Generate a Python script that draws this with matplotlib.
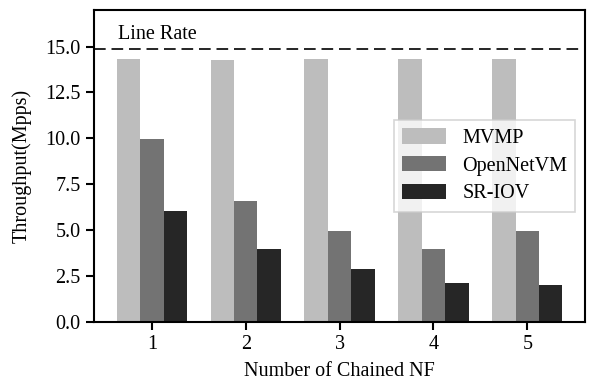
import matplotlib
matplotlib.use("Agg")
import matplotlib.pyplot as plt
import numpy as np

# Number of chained NFs
chain_len = [1, 2, 3, 4, 5]

# throughput in Mpps
mvmp = [14.33, 14.27, 14.33, 14.33, 14.33]
opennetvm = [9.94, 6.57, 4.93, 3.96, 4.93]
sriov = [6.02, 3.99, 2.87, 2.09, 1.99]

line_rate = 14.88

plt.rcParams['font.family'] = ['Liberation Serif', 'DejaVu Serif']
plt.rcParams['font.size'] = 14.5

fig, ax = plt.subplots(figsize=(5.89, 3.83), dpi=100)
fig.subplots_adjust(left=0.159, right=0.994, top=0.974, bottom=0.160)

x = np.array(chain_len)
w = 0.25
ax.bar(x - w, mvmp, w, color='#bdbdbd', label='MVMP')
ax.bar(x, opennetvm, w, color='#737373', label='OpenNetVM')
ax.bar(x + w, sriov, w, color='#262626', label='SR-IOV')

# line rate marker
ax.axhline(line_rate, color='black', linestyle=(0, (7, 3.5)), linewidth=1.2)
ax.text(0.64, 15.15, 'Line Rate', ha='left', va='bottom')

ax.set_xlim(0.38, 5.62)
ax.set_ylim(0, 17)
ax.set_xticks(chain_len)
ax.set_yticks([0, 2.5, 5, 7.5, 10, 12.5, 15])
ax.set_yticklabels(['0.0', '2.5', '5.0', '7.5', '10.0', '12.5', '15.0'])
ax.tick_params(direction='out', length=6, width=1.5)
for s in ax.spines.values():
    s.set_linewidth(1.5)

ax.set_xlabel('Number of Chained NF', labelpad=6)
ax.set_ylabel('Throughput(Mpps)', labelpad=10)

leg = ax.legend(loc='center right', fancybox=False, handlelength=2.2,
                handleheight=0.8, borderaxespad=0.5, labelspacing=0.4)
leg.get_frame().set_edgecolor('#cccccc')
leg.get_frame().set_linewidth(1.2)

fig.savefig('out.png', dpi=100)
